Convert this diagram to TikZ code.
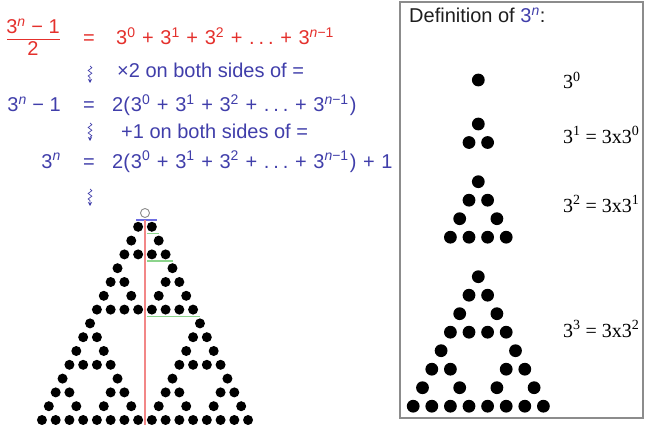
\documentclass[tikz,border=0pt]{standalone}
\usepackage{fontspec}
\setmainfont{Liberation Sans}
\newfontfamily\timesfont{Liberation Serif}
\usetikzlibrary{arrows.meta,decorations.pathmorphing}

\definecolor{eqred}{RGB}{228,48,44}
\definecolor{eqblue}{RGB}{64,62,170}
\definecolor{titlegray}{RGB}{30,30,30}
\definecolor{boxgray}{RGB}{140,140,140}
\definecolor{midred}{RGB}{242,135,135}
\definecolor{midgreen}{RGB}{140,212,140}
\definecolor{topblue}{RGB}{110,110,225}

\newcommand{\tp}[1]{3\textsuperscript{#1}}
\newcommand{\nmo}{\textit{n}−1}
\newcommand{\pl}{\hspace{0.33em}+\hspace{0.33em}}
\newcommand{\dts}{.\kern0.2em.\kern0.2em.}
% odd entries of rows #1..#2 of Pascal's triangle, one dot each
\newcommand{\sierprows}[3]{%
  \foreach \r in {#1,...,#2} {
    \foreach \c in {0,...,\r} {
      \pgfmathtruncatemacro\even{(mod(\c,2)>mod(\r,2))+(mod(floor(\c/2),2)>mod(floor(\r/2),2))+(mod(floor(\c/4),2)>mod(floor(\r/4),2))+(mod(floor(\c/8),2)>mod(floor(\r/8),2))}
      \ifnum\even=0 \fill (2*\c-\r,\r) circle (#3);\fi
    }
  }}

\tikzset{
  eqtxt/.style={inner sep=0pt, font=\fontsize{20}{24}\selectfont},
  powtxt/.style={inner sep=0pt, anchor=base west, font=\timesfont\fontsize{20}{24}\selectfont},
  squig/.style={eqblue, line width=0.7pt, decorate,
    decoration={snake, amplitude=1.8pt, segment length=5.5pt, post length=3.5pt},
    -{Stealth[length=4pt,width=4pt]}},
  midline/.style={midgreen, line width=1.3pt}
}

\begin{document}
\begin{tikzpicture}[x=1pt,y=-1pt]
  \useasboundingbox (0,0) rectangle (647,425);

  % equations
  \node[eqtxt, eqred, anchor=base] (num) at (33,34) {\tp{\textit{n}} − 1};
  \node[eqtxt, eqred, anchor=base] (den) at (33,56) {2};
  \draw[eqred, line width=1pt] (7,39.5) -- (60,39.5);
  \node[eqtxt, eqred, anchor=base] (eq1) at (89,45) {=};
  \node[eqtxt, eqred, anchor=base west] (rhs1) at (116,45)
    {\tp{0}\pl\tp{1}\pl\tp{2}\pl\dts\pl\tp{\nmo}};

  \node[eqtxt, eqblue, anchor=base west] (step1) at (117,78) {×2 on both sides of =};

  \node[eqtxt, eqblue, anchor=base east] (lhs2) at (61,112) {\tp{\textit{n}} − 1};
  \node[eqtxt, eqblue, anchor=base] (eq2) at (89,112) {=};
  \node[eqtxt, eqblue, anchor=base west] (rhs2) at (112,112)
    {2(\kern1pt\tp{0}\pl\tp{1}\pl\tp{2}\pl\dts\pl\tp{\nmo}\kern1pt)};

  \node[eqtxt, eqblue, anchor=base west] (step2) at (121,138) {+1 on both sides of =};

  \node[eqtxt, eqblue, anchor=base east] (lhs3) at (61,168) {\tp{\textit{n}}};
  \node[eqtxt, eqblue, anchor=base] (eq3) at (89,168) {=};
  \node[eqtxt, eqblue, anchor=base west] (rhs3) at (112,168)
    {2(\kern1pt\tp{0}\pl\tp{1}\pl\tp{2}\pl\dts\pl\tp{\nmo}\kern1pt)\pl 1};

  \coordinate (sq1a) at (90,66);
  \coordinate (sq1b) at (90,83);
  \coordinate (sq2a) at (90,123);
  \coordinate (sq2b) at (90,141);
  \coordinate (sq3a) at (90,189);
  \coordinate (sq3b) at (90,206);
  \draw[squig] (sq1a) -- (sq1b);
  \draw[squig] (sq2a) -- (sq2b);
  \draw[squig] (sq3a) -- (sq3b);

  % left triangle, split down the middle
  \coordinate (apexL) at (145,213);
  \begin{scope}[shift={(apexL)}, x=6.87pt, y=-13.8pt]
    \sierprows{1}{15}{5pt}
  \end{scope}
  \draw[boxgray, line width=0.9pt] (apexL) circle (4.5pt);
  \draw[topblue, line width=1.2pt] (136,220) -- (157,220);
  \draw[midred, line width=1.3pt] (145,220) -- (145,425);
  \draw[midline] (147,233.5) -- (159,233.5);
  \draw[midline] (147,261) -- (172.5,261);
  \draw[midline] (147,316.5) -- (200,316.5);

  % definition box
  \draw[boxgray, line width=1.3pt] (400,2) rectangle (643,418);
  \node[eqtxt, titlegray, anchor=base west] (title) at (409,22.7)
    {Definition of \textcolor{eqblue}{\tp{\textit{n}}}:};

  \coordinate (top0) at (478.3,80);
  \coordinate (top1) at (478.3,124);
  \coordinate (top2) at (478.3,181.7);
  \coordinate (top3) at (478.3,276.7);
  \begin{scope}[shift={(top0)}, x=9.3pt, y=-18.5pt]
    \sierprows{0}{0}{6.4pt}
  \end{scope}
  \begin{scope}[shift={(top1)}, x=9.3pt, y=-18.5pt]
    \sierprows{0}{1}{6.4pt}
  \end{scope}
  \begin{scope}[shift={(top2)}, x=9.3pt, y=-18.5pt]
    \sierprows{0}{3}{6.4pt}
  \end{scope}
  \begin{scope}[shift={(top3)}, x=9.3pt, y=-18.5pt]
    \sierprows{0}{7}{6.4pt}
  \end{scope}

  \node[powtxt] (pow0) at (563,89) {3\textsuperscript{0}};
  \node[powtxt] (pow1) at (563,143) {3\textsuperscript{1} = 3x3\textsuperscript{0}};
  \node[powtxt] (pow2) at (563,212) {3\textsuperscript{2} = 3x3\textsuperscript{1}};
  \node[powtxt] (pow3) at (563,337) {3\textsuperscript{3} = 3x3\textsuperscript{2}};
\end{tikzpicture}
\end{document}
